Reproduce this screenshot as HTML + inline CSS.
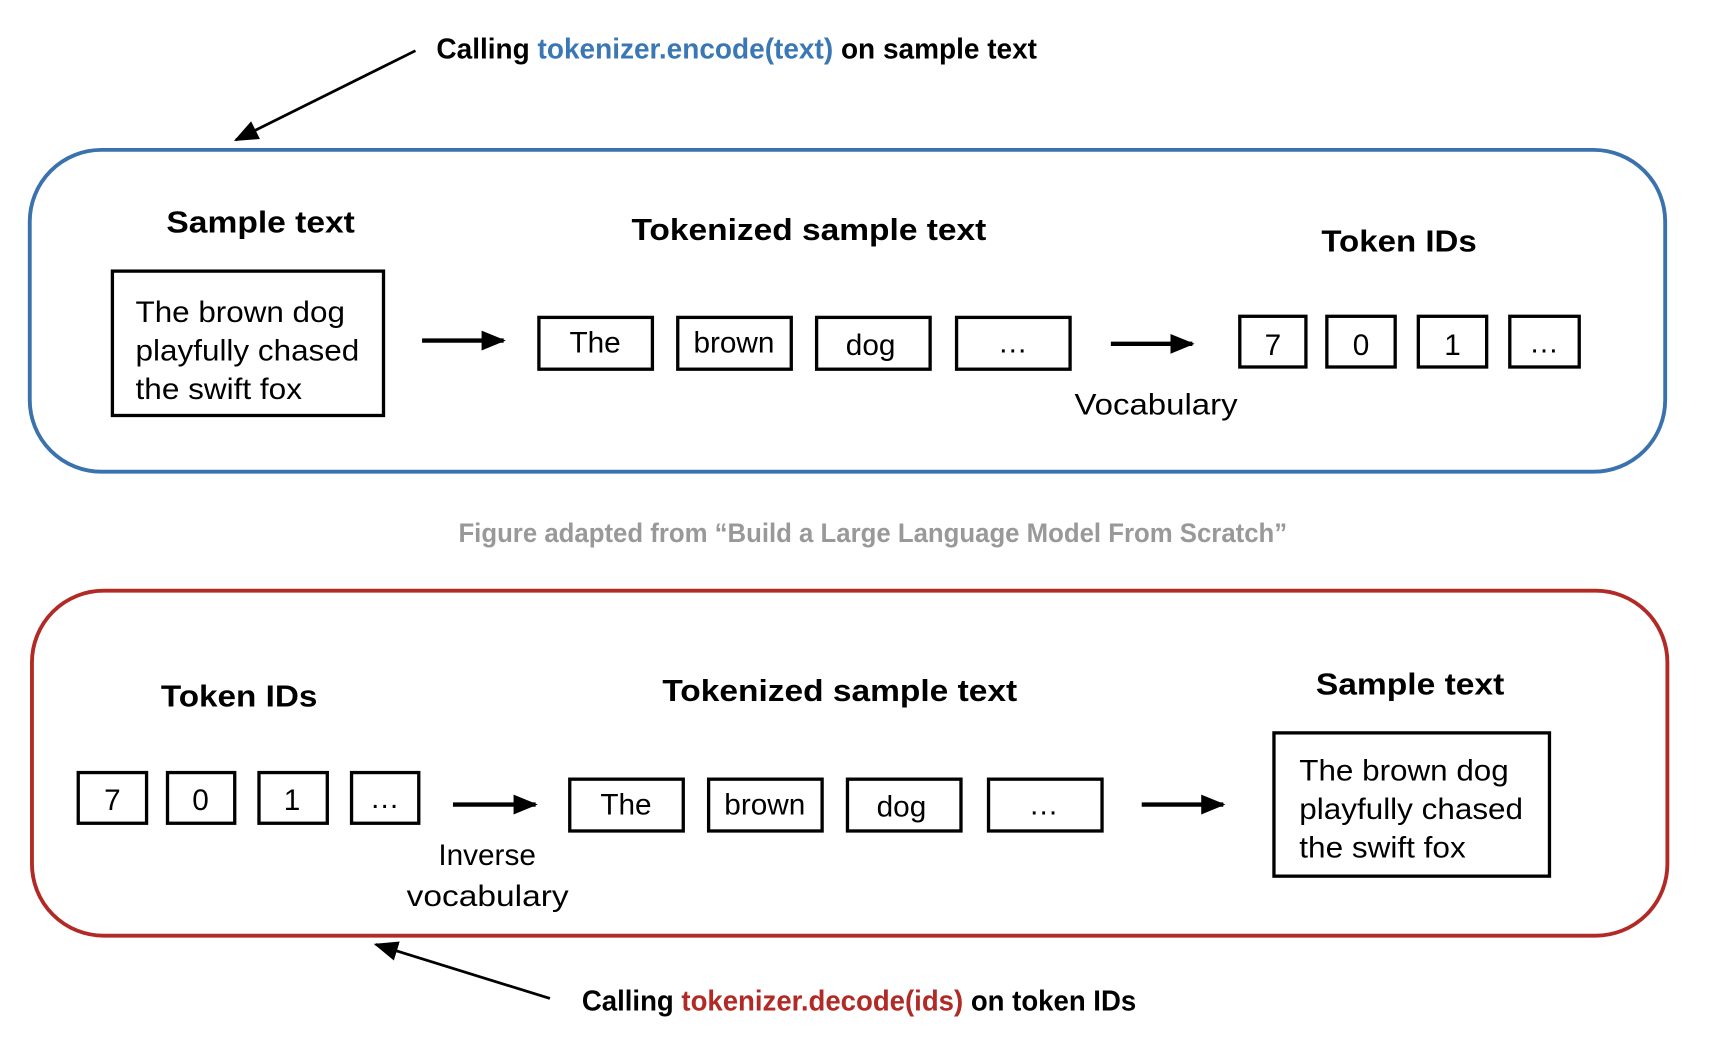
<!DOCTYPE html>
<html><head><meta charset="utf-8"><style>
html,body{margin:0;padding:0;background:#fff;}
svg{display:block;}
text{font-family:"Liberation Sans",sans-serif;}
.h{font-weight:bold;font-size:28px;}
.t{font-size:27px;}
.c{font-family:"Liberation Sans",sans-serif;font-weight:bold;font-size:26px;}
</style></head><body>
<svg width="1728" height="1058" viewBox="0 0 1568 960" preserveAspectRatio="none" xmlns="http://www.w3.org/2000/svg">
<defs>
<marker id="b" markerWidth="22" markerHeight="22" refX="20" refY="11" orient="auto" markerUnits="userSpaceOnUse"><path d="M0,2 L22,11 L0,20 z" fill="#000"/></marker>
</defs>
<text x="396" y="53" class="c" textLength="545" lengthAdjust="spacingAndGlyphs"><tspan fill="#000">Calling </tspan><tspan fill="#3a78b5"> tokenizer.encode(text) </tspan><tspan fill="#000"> on sample text</tspan></text>
<line x1="377" y1="46" x2="214" y2="127" stroke="#000" stroke-width="2.5" marker-end="url(#b)"/>
<rect x="27" y="136" width="1484" height="292" rx="65" fill="none" stroke="#3a72ad" stroke-width="3.5"/>
<text x="151" y="211" class="h" textLength="171" lengthAdjust="spacingAndGlyphs">Sample text</text>
<text x="573" y="218" class="h" textLength="322" lengthAdjust="spacingAndGlyphs">Tokenized sample text</text>
<text x="1199" y="228" class="h" textLength="141" lengthAdjust="spacingAndGlyphs">Token IDs</text>
<rect x="102" y="246" width="246" height="131" fill="none" stroke="#000" stroke-width="3"/>
<text x="123" y="292" class="t" textLength="190" lengthAdjust="spacingAndGlyphs">The brown dog</text>
<text x="123" y="327" class="t" textLength="203" lengthAdjust="spacingAndGlyphs">playfully chased</text>
<text x="123" y="362" class="t" textLength="151" lengthAdjust="spacingAndGlyphs">the swift fox</text>
<line x1="383" y1="309" x2="457" y2="309" stroke="#000" stroke-width="4" marker-end="url(#b)"/>
<g fill="none" stroke="#000" stroke-width="3">
<rect x="489" y="288" width="103" height="47"/><rect x="615" y="288" width="103" height="47"/><rect x="741" y="288" width="103" height="47"/><rect x="868" y="288" width="103" height="47"/>
<rect x="1125" y="287" width="60" height="46"/><rect x="1204" y="287" width="62" height="46"/><rect x="1287" y="287" width="62" height="46"/><rect x="1370" y="287" width="63" height="46"/>
</g>
<g class="t" text-anchor="middle">
<text x="540" y="320">The</text><text x="666" y="320">brown</text><text x="790" y="322">dog</text><text x="919" y="320">…</text>
<text x="1155" y="322">7</text><text x="1235" y="322">0</text><text x="1318" y="322">1</text><text x="1401" y="320">…</text>
</g>
<text x="975" y="376" class="t" textLength="148" lengthAdjust="spacingAndGlyphs">Vocabulary</text>
<line x1="1008" y1="312" x2="1082" y2="312" stroke="#000" stroke-width="4" marker-end="url(#b)"/>
<text x="792" y="492" text-anchor="middle" font-weight="bold" font-size="24" fill="#999" textLength="752" lengthAdjust="spacingAndGlyphs">Figure adapted from “Build a Large Language Model From Scratch”</text>
<rect x="29" y="536" width="1484" height="313" rx="65" fill="none" stroke="#b22a25" stroke-width="3.5"/>
<text x="146" y="641" class="h" textLength="142" lengthAdjust="spacingAndGlyphs">Token IDs</text>
<text x="601" y="636" class="h" textLength="322" lengthAdjust="spacingAndGlyphs">Tokenized sample text</text>
<text x="1194" y="630" class="h" textLength="171" lengthAdjust="spacingAndGlyphs">Sample text</text>
<g fill="none" stroke="#000" stroke-width="3">
<rect x="71" y="701" width="62" height="46"/><rect x="152" y="701" width="61" height="46"/><rect x="235" y="701" width="62" height="46"/><rect x="319" y="701" width="61" height="46"/>
<rect x="517" y="707" width="103" height="47"/><rect x="643" y="707" width="103" height="47"/><rect x="769" y="707" width="103" height="47"/><rect x="897" y="707" width="103" height="47"/>
<rect x="1156" y="665" width="250" height="130"/>
</g>
<g class="t" text-anchor="middle">
<text x="102" y="735">7</text><text x="182" y="735">0</text><text x="265" y="735">1</text><text x="349" y="733">…</text>
<text x="568" y="739">The</text><text x="694" y="739">brown</text><text x="818" y="741">dog</text><text x="947" y="739">…</text>
<text x="442" y="785">Inverse</text>
</g>
<text x="369" y="822" class="t" textLength="147" lengthAdjust="spacingAndGlyphs">vocabulary</text>
<text x="1179" y="708" class="t" textLength="190" lengthAdjust="spacingAndGlyphs">The brown dog</text>
<text x="1179" y="743" class="t" textLength="203" lengthAdjust="spacingAndGlyphs">playfully chased</text>
<text x="1179" y="778" class="t" textLength="151" lengthAdjust="spacingAndGlyphs">the swift fox</text>
<line x1="411" y1="730" x2="486" y2="730" stroke="#000" stroke-width="4" marker-end="url(#b)"/>
<line x1="1036" y1="730" x2="1110" y2="730" stroke="#000" stroke-width="4" marker-end="url(#b)"/>
<line x1="499" y1="906" x2="341" y2="857" stroke="#000" stroke-width="2.5" marker-end="url(#b)"/>
<text x="528" y="917" class="c" textLength="503" lengthAdjust="spacingAndGlyphs"><tspan fill="#000">Calling </tspan><tspan fill="#b22a25"> tokenizer.decode(ids) </tspan><tspan fill="#000"> on token IDs</tspan></text>
</svg>
</body></html>
